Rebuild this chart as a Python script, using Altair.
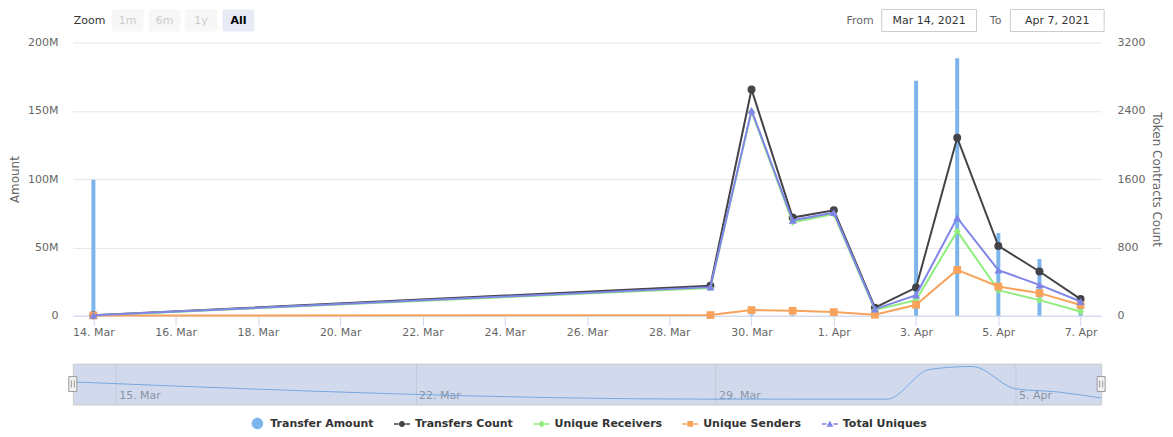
import altair as alt
import pandas as pd

# ---------------- data ----------------
dates = ["2021-03-14", "2021-03-29", "2021-03-30", "2021-03-31", "2021-04-01",
         "2021-04-02", "2021-04-03", "2021-04-04", "2021-04-05", "2021-04-06", "2021-04-07"]
transfer_amount = [99.5e6, 0.4e6, 0.9e6, 0.6e6, 0.5e6, 0.3e6, 172e6, 188.5e6, 60.5e6, 41.5e6, 7e6]
transfers_count = [5, 352, 2650, 1150, 1235, 95, 330, 2085, 818, 518, 195]
unique_receivers = [3, 325, 2390, 1095, 1190, 68, 183, 990, 300, 183, 50]
unique_senders = [3, 8, 66, 58, 43, 12, 128, 537, 342, 265, 125]
total_uniques = [5, 335, 2405, 1118, 1207, 78, 242, 1148, 534, 362, 167]

series_names = ["Transfer Amount", "Transfers Count", "Unique Receivers", "Unique Senders", "Total Uniques"]
series_colors = ["#7cb5ec", "#434348", "#90ed7d", "#f7a35c", "#8085e9"]

x_tick_dates = ["2021-03-14", "2021-03-16", "2021-03-18", "2021-03-20", "2021-03-22", "2021-03-24",
                "2021-03-26", "2021-03-28", "2021-03-30", "2021-04-01", "2021-04-03", "2021-04-05",
                "2021-04-07"]
nav_tick_dates = ["2021-03-15", "2021-03-22", "2021-03-29", "2021-04-05"]
amount_ticks = [0, 50e6, 100e6, 150e6, 200e6]
count_ticks = [0, 800, 1600, 2400, 3200]

FONT = "DejaVu Sans"


def dt(s, hours=0):
    y, m, d = map(int, s.split("-"))
    return alt.DateTime(year=y, month=m, date=d, hours=hours, utc=True)


amount_df = pd.DataFrame({"date": dates, "amount": transfer_amount})
count_series = {
    "Transfers Count": transfers_count,
    "Unique Receivers": unique_receivers,
    "Unique Senders": unique_senders,
    "Total Uniques": total_uniques,
}
counts_df = pd.concat(
    [pd.DataFrame({"date": dates, "series": k, "value": v}) for k, v in count_series.items()],
    ignore_index=True,
)

# ---------------- main chart ----------------
W, H = 1031, 274

x_main = alt.X(
    "date:T", title=None,
    scale=alt.Scale(type="utc", domain=[dt("2021-03-13", 12), dt("2021-04-07", 12)], padding=0),
    axis=alt.Axis(values=[dt(s) for s in x_tick_dates], format="%-d. %b", grid=False,
                  domainColor="#ccd6eb", tickColor="#ccd6eb", tickSize=10, labelPadding=1,
                  labelColor="#666666", labelFont=FONT, labelFontSize=11,
                  labelFlush=False, labelOverlap=False),
)
y_amt = alt.Y(
    "amount:Q",
    scale=alt.Scale(domain=[0, 200e6], nice=False),
    axis=alt.Axis(values=amount_ticks,
                  labelExpr="datum.value == 0 ? '0' : format(datum.value / 1e6, 'd') + 'M'",
                  title="Amount", titleColor="#666666", titleFont=FONT, titleFontSize=12,
                  titleFontWeight="normal", titlePadding=6,
                  labelColor="#666666", labelFont=FONT, labelFontSize=11, labelPadding=15,
                  grid=True, gridColor="#e6e6e6", domain=False, ticks=False),
)
y_cnt = alt.Y(
    "value:Q",
    scale=alt.Scale(domain=[0, 3200], nice=False),
    axis=alt.Axis(orient="right", values=count_ticks, format="d", title="Token Contracts Count",
                  titleColor="#666666", titleFont=FONT, titleFontSize=12,
                  titleFontWeight="normal", titlePadding=4,
                  labelColor="#666666", labelFont=FONT, labelFontSize=11, labelPadding=16,
                  grid=False, domain=False, ticks=False),
)

bars = alt.Chart(amount_df).mark_bar(size=4, color=series_colors[0]).encode(x=x_main, y=y_amt)

marker_shapes = {"Transfers Count": ("circle", 64), "Unique Receivers": ("diamond", 50),
                 "Unique Senders": ("square", 60), "Total Uniques": ("triangle-up", 64)}

count_layers = []
for name, color in zip(series_names[1:], series_colors[1:]):
    base = alt.Chart(counts_df).transform_filter(alt.datum.series == name)
    count_layers.append(base.mark_line(color=color, strokeWidth=2).encode(x=x_main, y=y_cnt))
    shp, sz = marker_shapes[name]
    count_layers.append(base.mark_point(filled=True, color=color, shape=shp, size=sz, opacity=1)
                        .encode(x=x_main, y=y_cnt))

# legend-only layer (no drawn marks: values are empty)
seg = "M-1,-0.1H-0.42V0.1H-1ZM0.42,-0.1H1V0.1H0.42Z"
legend_shapes = [
    "M0.72,0A0.72,0.72 0 1,1 -0.72,0A0.72,0.72 0 1,1 0.72,0Z",
    seg + "M0.38,0A0.38,0.38 0 1,1 -0.38,0A0.38,0.38 0 1,1 0.38,0Z",
    seg + "M0,-0.45L0.45,0L0,0.45L-0.45,0Z",
    seg + "M-0.36,-0.36H0.36V0.36H-0.36Z",
    seg + "M0,-0.42L0.42,0.36L-0.42,0.36Z",
]
legend_df = pd.DataFrame({"series": series_names, "value": [None] * 5})
leg = alt.Legend(title=None, orient="none", legendX=177, legendY=374, direction="horizontal",
                 columns=5, symbolSize=256, symbolStrokeWidth=0, symbolOpacity=1,
                 labelFont=FONT, labelFontSize=11, labelFontWeight="bold", labelColor="#333333",
                 labelOffset=5, columnPadding=20, padding=0)
legend_layer = alt.Chart(legend_df).mark_point(filled=True, opacity=1, invalid="filter").encode(
    y=y_cnt,
    color=alt.Color("series:N", scale=alt.Scale(domain=series_names, range=series_colors), legend=leg),
    shape=alt.Shape("series:N", scale=alt.Scale(domain=series_names, range=legend_shapes), legend=leg),
)

counts_layer = alt.layer(*count_layers, legend_layer)

# range-selector / date-input decorations above the plot
one = pd.DataFrame({"k": [0]})


def box(x1, x2, fill, stroke=None):
    kw = dict(fill=fill, cornerRadius=2)
    if stroke:
        kw = dict(fill=fill, stroke=stroke, strokeWidth=1)
    return alt.Chart(one).mark_rect(**kw).encode(
        x=alt.value(x1), x2=alt.value(x2), y=alt.value(-33), y2=alt.value(-11))


def label(txt, x, align="center", color="#333333", weight="normal"):
    return alt.Chart(one).mark_text(text=txt, align=align, baseline="middle", font=FONT,
                                    fontSize=11, color=color, fontWeight=weight).encode(
        x=alt.value(x), y=alt.value(-22))


deco = [
    label("Zoom", 1, align="left", color="#333333"),
    box(39, 71, "#f7f7f7"), label("1m", 55, color="#cccccc"),
    box(76, 108, "#f7f7f7"), label("6m", 92, color="#cccccc"),
    box(112, 145, "#f7f7f7"), label("1y", 128.5, color="#cccccc"),
    box(150, 182, "#e6ebf5"), label("All", 166, color="#000000", weight="bold"),
    label("From", 803, align="right", color="#666666"),
    box(811, 906, "#ffffff", "#cccccc"), label("Mar 14, 2021", 858.5),
    label("To", 931, align="right", color="#666666"),
    box(940, 1034, "#ffffff", "#cccccc"), label("Apr 7, 2021", 987),
]

main = alt.layer(*deco, bars, counts_layer).resolve_scale(y="independent").properties(width=W, height=H)

# ---------------- navigator ----------------
nav_scale = alt.Scale(type="utc", domain=[dt(dates[0]), dt(dates[-1])], padding=0)
nav_x = alt.X(
    "date:T", title=None, scale=nav_scale,
    axis=alt.Axis(values=[dt(s) for s in nav_tick_dates], format="%-d. %b", grid=True,
                  gridColor="#c0c9db", domain=False, ticks=False, tickSize=0,
                  labelAlign="left", labelBaseline="alphabetic", labelPadding=-6, labelOffset=3,
                  labelColor="#8a93a5", labelFont=FONT, labelFontSize=11, labelFlush=False),
)
nav_y = alt.Y("amount:Q", scale=alt.Scale(domain=[-30.4e6, 205e6], nice=False, zero=False), axis=None)

nav_line = alt.Chart(amount_df).mark_line(color="#75a7df", strokeWidth=1, interpolate="monotone").encode(
    x=nav_x, y=nav_y)

handle_df = pd.DataFrame({"date": [dates[0], dates[-1]]})
handles = alt.Chart(handle_df).mark_tick(orient="vertical", size=15, thickness=8, fill="#f2f2f2",
                                         stroke="#999999", strokeWidth=1, opacity=1).encode(
    x=nav_x, y=alt.value(20.5))
grip_l = alt.Chart(handle_df).mark_tick(orient="vertical", size=7, thickness=1, color="#999999",
                                        xOffset=-1.5, opacity=1).encode(x=nav_x, y=alt.value(20.5))
grip_r = alt.Chart(handle_df).mark_tick(orient="vertical", size=7, thickness=1, color="#999999",
                                        xOffset=1.5, opacity=1).encode(x=nav_x, y=alt.value(20.5))

nav = alt.layer(nav_line, handles, grip_l, grip_r).properties(
    width=W, height=41, view=alt.ViewBackground(fill="#d1daed", stroke="#cccccc"))

chart = alt.vconcat(main, nav, spacing=48, bounds="flush").configure_view(stroke=None).properties(
    padding={"left": 0, "top": 0, "right": 3, "bottom": 0})

chart.save("out.html", embed_options={"renderer": "svg", "actions": False})
